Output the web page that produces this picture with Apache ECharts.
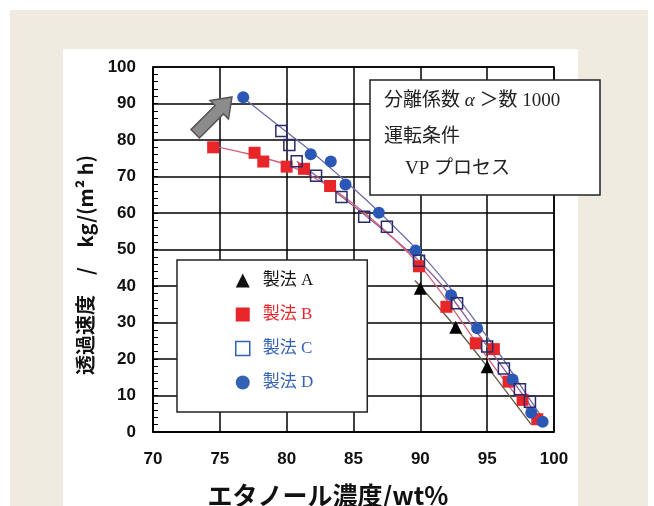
<!DOCTYPE html>
<html><head><meta charset="utf-8">
<script src="https://cdn.jsdelivr.net/npm/echarts@6/dist/echarts.min.js"></script>
<style>
html,body{margin:0;padding:0;background:#fff;overflow:hidden;}
#bg{position:absolute;left:10px;top:10px;width:638px;height:496px;background:#efebe0;}
#panel{position:absolute;left:63px;top:49px;width:515px;height:457px;background:#fff;}
#chart{position:absolute;left:0;top:0;width:654px;height:506px;}
</style></head><body>
<div id="bg"></div><div id="panel"></div><div id="chart"></div>
<script>
// axis settings
const xMin = 70, xMax = 100, xStep = 5;
const yMin = 0, yMax = 100, yStep = 10;
const xTitle = 'エタノール濃度/wt%';
const yTitle = '透過速度　/　kg/(m² h)';
const seriesNames = ['製法 A', '製法 B', '製法 C', '製法 D'];

// measured points
const aX = [90.0, 92.65, 95.0];
const aY = [39.4, 28.7, 17.9];
const bX = [74.5, 77.6, 78.25, 80.0, 81.3, 83.25, 89.9, 91.95, 94.15, 95.5, 96.6, 97.65, 98.75];
const bY = [78.0, 76.5, 74.1, 72.7, 72.1, 67.4, 45.4, 34.3, 24.3, 22.7, 13.8, 8.8, 3.5];
const cX = [79.6, 80.2, 80.75, 82.2, 84.1, 85.8, 87.5, 89.9, 92.75, 95.0, 96.25, 97.45, 98.2];
const cY = [82.5, 78.6, 74.2, 70.2, 64.4, 59.0, 56.2, 46.9, 35.3, 23.4, 17.4, 11.7, 8.3];
const dX = [76.75, 81.8, 83.3, 84.4, 86.9, 89.65, 92.3, 94.25, 96.9, 98.3, 99.15];
const dY = [91.7, 76.1, 74.1, 67.8, 60.1, 49.7, 37.5, 28.4, 14.4, 5.3, 2.8];

// fitted trend curves
const fitAX = [89.6, 92.65, 95.0, 98.3];
const fitAY = [41.5, 28.7, 17.9, 2.0];
const fitBX = [74.5, 77, 80, 82, 84, 86, 88, 90, 92, 94, 96, 98, 98.9];
const fitBY = [78.3, 76.3, 73.2, 69.8, 65.2, 59.5, 53, 45.5, 36, 25.5, 15.5, 6.2, 2.2];
const fitCX = [80.75, 82.2, 84.1, 86, 88, 90, 92, 94, 96, 98, 98.6];
const fitCY = [74.2, 70.2, 64.5, 59, 53, 46.5, 38.5, 28.5, 18.5, 8.5, 5];
const fitDX = [76.7, 80, 82, 84, 86, 88, 90, 92, 94, 96, 98, 99.3];
const fitDY = [91.7, 82.2, 76.4, 70.0, 63.4, 56.4, 49.0, 40.5, 31.0, 21.0, 10.0, 3.0];

const zip = (xs, ys) => xs.map((x, i) => [x, ys[i]]);

const BLUE = '#2b57b5', RED = '#e8262a', NAVY = '#2b2b6b', LBLUE = '#3361b3';
const serif = '"Liberation Serif", "DejaVu Serif", "Noto Sans CJK JP", serif';
const gothic = '"Noto Sans CJK JP", "Liberation Sans", sans-serif';

const chart = echarts.init(document.getElementById('chart'), null, {renderer: 'canvas'});
const fitLine = (name, xs, ys, color) => ({
  name, type: 'line', data: zip(xs, ys), smooth: 0.3, showSymbol: false, symbol: 'none',
  lineStyle: {color, width: 1.3}, z: 2, silent: true
});
const boxText = {fill: '#222', textAlign: 'left', textVerticalAlign: 'middle', verticalAlign: 'middle', font: '19px ' + serif};
chart.setOption({
  animation: false,
  backgroundColor: 'transparent',
  grid: {left: 153, right: 100, top: 67, bottom: 74, show: true, borderColor: '#000', borderWidth: 1.5, backgroundColor: 'transparent'},
  xAxis: {
    type: 'value', min: xMin, max: xMax, interval: xStep,
    axisLine: {show: true, lineStyle: {color: '#000', width: 1.5}},
    axisTick: {show: false},
    axisLabel: {color: '#111', fontSize: 17, fontWeight: 'bold', fontFamily: '"Liberation Sans", Arial, sans-serif', margin: 19},
    splitLine: {show: true, lineStyle: {color: '#000', width: 1.5}}
  },
  yAxis: {
    type: 'value', min: yMin, max: yMax, interval: yStep,
    axisLine: {show: true, lineStyle: {color: '#000', width: 1.5}},
    axisTick: {show: true, inside: true, length: 5, lineStyle: {color: '#000'}},
    minorTick: {show: true, splitNumber: 5, length: 5, lineStyle: {color: '#000', width: 1}},
    axisLabel: {color: '#111', fontSize: 17, fontWeight: 'bold', fontFamily: '"Liberation Sans", Arial, sans-serif', margin: 17},
    splitLine: {show: true, lineStyle: {color: '#000', width: 1.5}}
  },
  legend: {
    orient: 'vertical', left: 177, top: 260,
    padding: [12, 54, 21, 58], itemGap: 17, itemWidth: 14, itemHeight: 14,
    backgroundColor: '#fff', borderColor: '#222', borderWidth: 1.5, borderRadius: 0,
    textStyle: {fontFamily: serif, fontSize: 17, padding: [0, 0, 0, 8]},
    data: [
      {name: seriesNames[0], icon: 'triangle', itemStyle: {color: '#111', opacity: 1}, textStyle: {color: '#111'}},
      {name: seriesNames[1], icon: 'rect', itemStyle: {color: RED, opacity: 1}, textStyle: {color: RED}},
      {name: seriesNames[2], icon: 'rect', itemStyle: {color: '#fff', borderColor: LBLUE, borderWidth: 1.5, opacity: 1}, textStyle: {color: LBLUE}},
      {name: seriesNames[3], icon: 'circle', itemStyle: {color: LBLUE, opacity: 1}, textStyle: {color: LBLUE}}
    ]
  },
  series: [
    fitLine('fitD', fitDX, fitDY, '#6c6caa'),
    fitLine('fitC', fitCX, fitCY, '#8e5c9a'),
    fitLine('fitB', fitBX, fitBY, '#d4607a'),
    fitLine('fitA', fitAX, fitAY, '#5c5c48'),
    {name: seriesNames[1], type: 'scatter', data: zip(bX, bY), symbol: 'rect', symbolSize: 12, itemStyle: {color: RED, opacity: 1}, z: 3},
    {name: seriesNames[3], type: 'scatter', data: zip(dX, dY), symbol: 'circle', symbolSize: 12, itemStyle: {color: BLUE, opacity: 1}, z: 4},
    {name: seriesNames[2], type: 'scatter', data: zip(cX, cY), symbol: 'rect', symbolSize: 11, itemStyle: {color: 'rgba(255,255,255,0)', borderColor: NAVY, borderWidth: 1.5, opacity: 1}, z: 5},
    {name: seriesNames[0], type: 'scatter', data: zip(aX, aY), symbol: 'triangle', symbolSize: 13, itemStyle: {color: '#000', opacity: 1}, z: 6}
  ],
  graphic: [
    {type: 'polygon', z: 20, shape: {points: [[232, 97], [228.5, 118.9], [223.5, 113.9], [199.4, 138.0], [191.0, 129.6], [215.1, 105.5], [210.1, 100.5]]},
     style: {fill: '#8c8c8c', stroke: '#555', lineWidth: 1.5}},
    {type: 'rect', z: 20, shape: {x: 370, y: 80, width: 230, height: 115}, style: {fill: '#fff', stroke: '#222', lineWidth: 1.5}},
    {type: 'text', z: 21, x: 384, y: 101, style: Object.assign({}, boxText, {
      text: '分離係数{i| α }＞数 1000',
      rich: {i: {font: 'italic 19px ' + serif, fill: '#222'}}
    })},
    {type: 'text', z: 21, x: 384, y: 137, style: Object.assign({}, boxText, {text: '運転条件'})},
    {type: 'text', z: 21, x: 405, y: 169, style: Object.assign({}, boxText, {text: 'VP プロセス'})},
    {type: 'text', z: 21, x: 328, y: 495, style: {text: xTitle, font: 'bold 25px ' + gothic, fill: '#111', textAlign: 'center', textVerticalAlign: 'middle', align: 'center', verticalAlign: 'middle'}},
    {type: 'text', z: 21, x: 85, y: 265, rotation: Math.PI / 2, style: {text: yTitle, font: 'bold 20px ' + gothic, fill: '#111', textAlign: 'center', textVerticalAlign: 'middle', align: 'center', verticalAlign: 'middle'}}
  ]
});
</script>
</body></html>
